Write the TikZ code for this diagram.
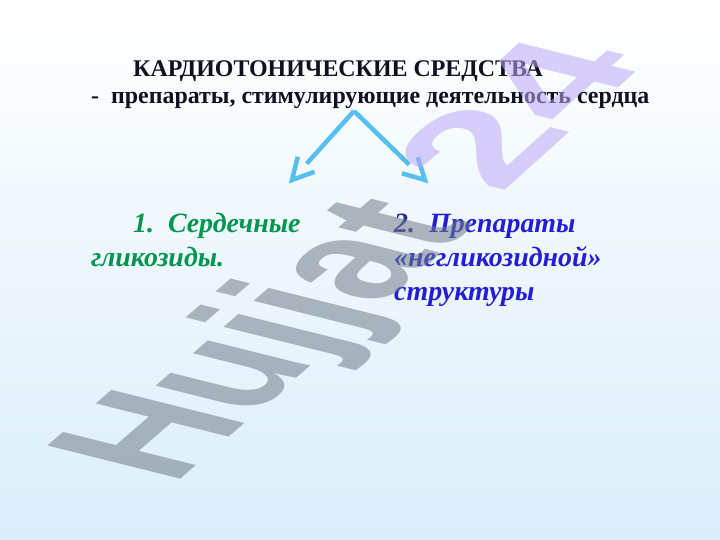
\documentclass[tikz,border=0pt]{standalone}
\usepackage{fontspec}
\setmainfont{Liberation Serif}
\newfontfamily\wmfont{Liberation Sans}
\usetikzlibrary{calc}
\definecolor{bgtop}{RGB}{255,255,255}
\definecolor{bgbot}{RGB}{218,238,250}
\definecolor{titlecol}{RGB}{16,16,32}
\definecolor{greencol}{RGB}{0,150,80}
\definecolor{bluecol}{RGB}{36,28,215}
\definecolor{navycol}{RGB}{40,40,150}
\definecolor{arrowcol}{RGB}{85,192,240}
\definecolor{wmgrey}{RGB}{113,125,138}
\definecolor{wmpurple}{RGB}{188,168,247}
\tikzset{
  titletext/.style={anchor=base west, inner sep=0pt, text=titlecol, font=\bfseries\fontsize{24}{28}\selectfont},
  itemtext/.style={anchor=base west, inner sep=0pt, font=\bfseries\itshape\fontsize{28}{32}\selectfont},
  arrowline/.style={draw=arrowcol, line width=4.5bp},
  wmark/.style={anchor=base west, inner sep=0pt, text opacity=0.55, font=\wmfont\bfseries\fontsize{100}{100}\selectfont}
}
\begin{document}
\begin{tikzpicture}[x=1bp,y=-1bp]
\shade[top color=bgtop, bottom color=bgbot] (0,0) rectangle (720,540);
\useasboundingbox (0,0) rectangle (720,540);

\node[titletext] (t1) at (133,77) {КАРДИОТОНИЧЕСКИЕ СРЕДСТВА};
\node[titletext] (t2) at (91,104) {-\ \ препараты, стимулирующие деятельность сердца};

\coordinate (apex) at (354,111);
\coordinate (tipL) at (292,180);
\coordinate (tipR) at (425,180);
\draw[arrowline] (apex) -- ($(tipL)!22bp!(apex)$);
\draw[arrowline] ($(tipL)!24bp!28:(apex)$) -- (tipL) -- ($(tipL)!24bp!-28:(apex)$);
\draw[arrowline] (apex) -- ($(tipR)!22bp!(apex)$);
\draw[arrowline] ($(tipR)!24bp!28:(apex)$) -- (tipR) -- ($(tipR)!24bp!-28:(apex)$);

\node[itemtext, text=greencol] (g1) at (133,233) {1.\ \ Сердечные};
\node[itemtext, text=greencol] (g2) at (91,267) {гликозиды.};
\node[itemtext, text=bluecol] (b1) at (394,233) {\textcolor{navycol}{2.}\ \ Препараты};
\node[itemtext, text=bluecol] (b2) at (394,267) {«негликозидной»};
\node[itemtext, text=bluecol] (b3) at (394,300) {структуры};

\begin{scope}[shift={(173,486)}]
\node[wmark, text=wmgrey, cm={1.094,0.951,-1.941,0.484,(0,0)}] (wm1) at (0,0) {Hujjat};
\end{scope}
\begin{scope}[shift={(500,195)}]
\node[wmark, text=wmpurple, cm={1.345,1.211,-1.698,0.423,(0,0)}] (wm2) at (0,0) {24};
\end{scope}
\end{tikzpicture}
\end{document}
